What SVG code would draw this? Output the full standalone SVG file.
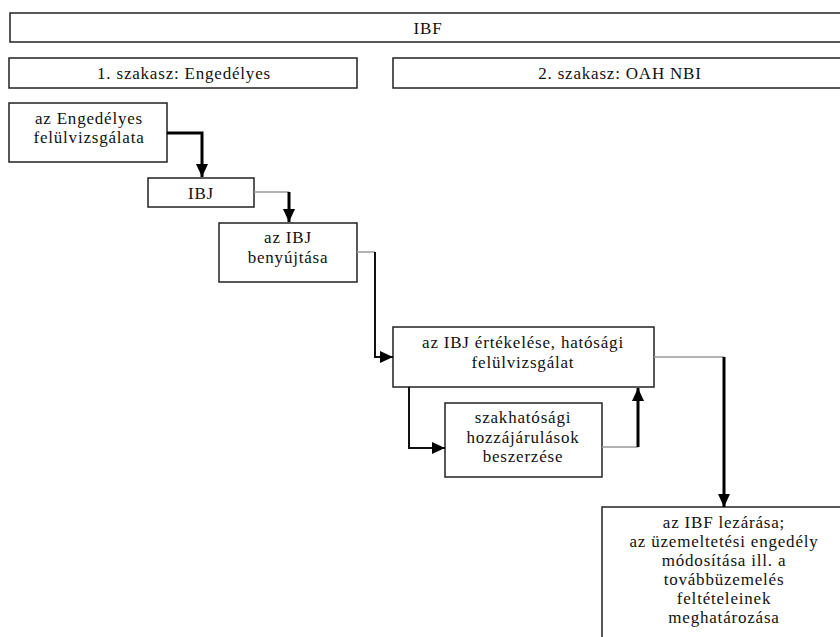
<svg xmlns="http://www.w3.org/2000/svg" width="840" height="637" viewBox="0 0 840 637">
<defs>
<style>
.box{fill:#fff;stroke:#222;stroke-width:1.5}
.t{font-family:'Liberation Serif','Tinos','DejaVu Serif',serif;font-size:17px;letter-spacing:0.8px;fill:#111;text-anchor:middle}
.g{fill:none;stroke:#999;stroke-width:1.5}
.k{fill:none;stroke:#000;stroke-width:3}
.k2{fill:none;stroke:#111;stroke-width:2}
</style>
<marker id="ah" markerUnits="userSpaceOnUse" markerWidth="14" markerHeight="14" viewBox="0 0 14 14" refX="13" refY="7" orient="auto">
<path d="M0,1 L13,7 L0,13 z" fill="#000"/>
</marker>
</defs>
<rect width="840" height="637" fill="#fff"/>
<g id="ibf">
<rect class="box" x="10" y="13" width="840" height="29"/>
<text class="t" x="428" y="34">IBF</text>
</g>
<g id="stage1">
<rect class="box" x="9" y="58" width="348" height="30"/>
<text class="t" x="184" y="79">1. szakasz: Engedélyes</text>
</g>
<g id="stage2">
<rect class="box" x="393" y="58" width="460" height="30"/>
<text class="t" x="620" y="79">2. szakasz: OAH NBI</text>
</g>
<g id="engedelyes">
<rect class="box" x="9" y="103" width="158" height="59"/>
<text class="t" x="89" y="124">az Engedélyes</text>
<text class="t" x="89" y="143">felülvizsgálata</text>
</g>
<g id="ibj">
<rect class="box" x="148" y="178" width="106" height="29"/>
<text class="t" x="201" y="199">IBJ</text>
</g>
<g id="benyujtas">
<rect class="box" x="219" y="223" width="138" height="59"/>
<text class="t" x="288" y="243">az IBJ</text>
<text class="t" x="288" y="263">benyújtása</text>
</g>
<g id="ertekeles">
<rect class="box" x="393" y="327" width="261" height="60"/>
<text class="t" x="523" y="348">az IBJ értékelése, hatósági</text>
<text class="t" x="523" y="368">felülvizsgálat</text>
</g>
<g id="szakhatosagi">
<rect class="box" x="445" y="403" width="157" height="74"/>
<text class="t" x="523" y="423">szakhatósági</text>
<text class="t" x="523" y="443">hozzájárulások</text>
<text class="t" x="523" y="462">beszerzése</text>
</g>
<g id="lezaras">
<rect class="box" x="602" y="507" width="244" height="140"/>
<text class="t" x="724" y="528">az IBF lezárása;</text>
<text class="t" x="724" y="547">az üzemeltetési engedély</text>
<text class="t" x="724" y="566">módosítása ill. a</text>
<text class="t" x="724" y="585">továbbüzemelés</text>
<text class="t" x="724" y="604">feltételeinek</text>
<text class="t" x="724" y="623">meghatározása</text>
</g>
<g id="connectors">
<path class="k" d="M167,133 H202 V177" marker-end="url(#ah)"/>
<path class="g" d="M254,192 H289"/>
<path class="k" d="M289,192 V222" marker-end="url(#ah)"/>
<path class="g" d="M357,252 H375"/>
<path class="k2" d="M375,252 V357 H393" marker-end="url(#ah)"/>
<path class="k2" d="M409,387 V448 H445" marker-end="url(#ah)"/>
<path class="g" d="M602,447 H638"/>
<path class="k" d="M638,447 V388" marker-end="url(#ah)"/>
<path class="g" d="M654,357 H724"/>
<path class="k" d="M724,357 V507" marker-end="url(#ah)"/>
</g>
</svg>
